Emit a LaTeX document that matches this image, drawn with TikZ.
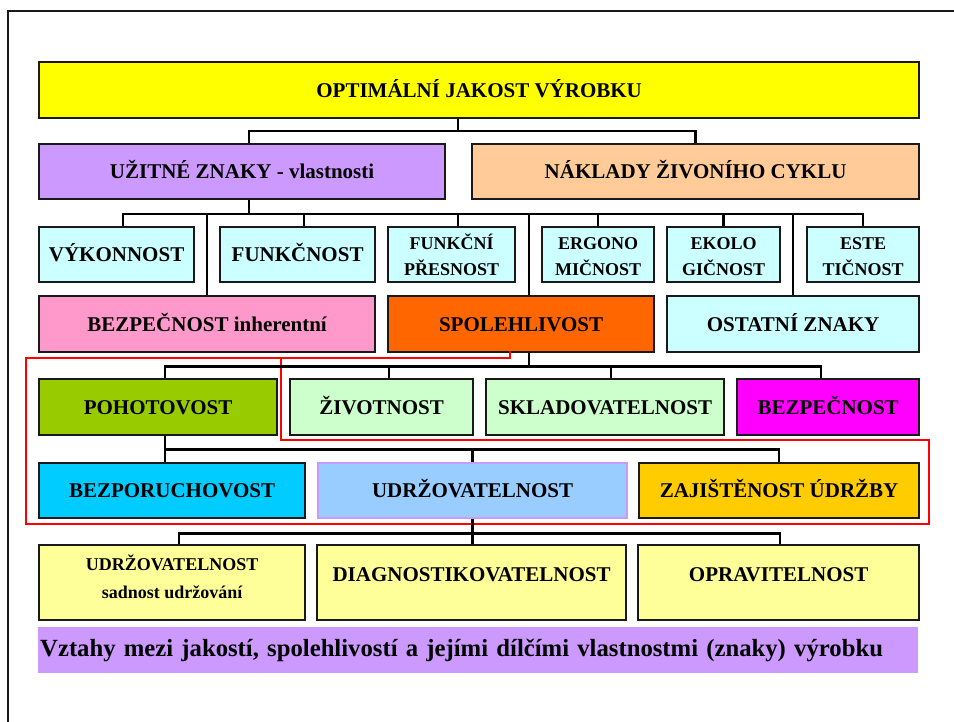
\documentclass[tikz,border=0pt]{standalone}
\usepackage{fontspec}
\setmainfont{Liberation Serif}
\definecolor{zluta}{HTML}{FFFF00}
\definecolor{fialova}{HTML}{CC99FF}
\definecolor{merunka}{HTML}{FFCC99}
\definecolor{azur}{HTML}{CCFFFF}
\definecolor{ruzova}{HTML}{FF99CC}
\definecolor{oranz}{HTML}{FF6600}
\definecolor{olivova}{HTML}{99CC00}
\definecolor{mata}{HTML}{CCFFCC}
\definecolor{purpur}{HTML}{FF00FF}
\definecolor{nebeska}{HTML}{00CCFF}
\definecolor{modra}{HTML}{99CCFF}
\definecolor{zlata}{HTML}{FFCC00}
\definecolor{svetlezluta}{HTML}{FFFF99}

\begin{document}
\begin{tikzpicture}[
x=1pt,y=-1pt,
box/.style={draw=black!90,line width=2.2pt,anchor=north west,inner sep=2pt,align=center,
  text height=14pt,text depth=0pt,font=\bfseries\fontsize{21}{25}\selectfont},
small/.style={text height=42pt,text depth=0pt,font=\bfseries\fontsize{18}{26}\selectfont},
conn/.style={draw=black,line width=2.6pt},
group/.style={draw=red,line width=1.3pt},
frame/.style={draw=black!90,line width=2.5pt}
]
\useasboundingbox (0,0) rectangle (954,722);

\node[box,fill=zluta,minimum width=880pt,minimum height=56pt] (jakost) at (38,61) {OPTIMÁLNÍ JAKOST VÝROBKU};

\node[box,fill=fialova,minimum width=406pt,minimum height=55pt] (uzitne) at (38,143) {UŽITNÉ ZNAKY - vlastnosti};
\node[box,fill=merunka,minimum width=447pt,minimum height=55pt] (naklady) at (471,143) {NÁKLADY ŽIVONÍHO CYKLU};

\node[box,fill=azur,minimum width=155pt,minimum height=55pt] (vykon) at (38,226) {VÝKONNOST};
\node[box,fill=azur,minimum width=155pt,minimum height=55pt] (funkc) at (219,226) {FUNKČNOST};
\node[box,small,fill=azur,minimum width=127pt,minimum height=55pt] (presn) at (387,226) {FUNKČNÍ\\PŘESNOST};
\node[box,small,fill=azur,minimum width=112pt,minimum height=55pt] (ergo) at (541,226) {ERGONO\\MIČNOST};
\node[box,small,fill=azur,minimum width=113pt,minimum height=55pt] (ekolo) at (666,226) {EKOLO\\GIČNOST};
\node[box,small,fill=azur,minimum width=112pt,minimum height=55pt] (estet) at (806,226) {ESTE\\TIČNOST};

\node[box,fill=ruzova,minimum width=336pt,minimum height=56pt] (bezinh) at (38,295) {BEZPEČNOST inherentní};
\node[box,fill=oranz,minimum width=266pt,minimum height=56pt] (spol) at (387,295) {SPOLEHLIVOST};
\node[box,fill=azur,minimum width=252pt,minimum height=56pt] (ostat) at (666,295) {OSTATNÍ ZNAKY};

\node[box,fill=olivova,minimum width=238pt,minimum height=56pt] (pohot) at (38,378) {POHOTOVOST};
\node[box,fill=mata,minimum width=183pt,minimum height=56pt] (zivot) at (289,378) {ŽIVOTNOST};
\node[box,fill=mata,minimum width=238pt,minimum height=56pt] (sklad) at (485,378) {SKLADOVATELNOST};
\node[box,fill=purpur,minimum width=182pt,minimum height=56pt] (bezp) at (736,378) {BEZPEČNOST};

\node[box,fill=nebeska,minimum width=266pt,minimum height=55pt] (bezpor) at (38,462) {BEZPORUCHOVOST};
\node[box,draw=fialova,fill=modra,minimum width=309pt,minimum height=55pt] (udrz) at (317,462) {UDRŽOVATELNOST};
\node[box,fill=zlata,minimum width=280pt,minimum height=55pt] (zajist) at (638,462) {ZAJIŠTĚNOST ÚDRŽBY};

\node[box,fill=svetlezluta,font=\bfseries\fontsize{18}{28}\selectfont,text height=44pt,text depth=12pt,minimum width=266pt,minimum height=75pt] (udrzb) at (38,544) {UDRŽOVATELNOST\\sadnost udržování};
\node[box,fill=svetlezluta,text depth=17pt,minimum width=309pt,minimum height=75pt] (diag) at (316,544) {DIAGNOSTIKOVATELNOST};
\node[box,fill=svetlezluta,text depth=17pt,minimum width=281pt,minimum height=75pt] (oprav) at (637,544) {OPRAVITELNOST};

\node[anchor=north west,fill=fialova,text width=876pt,inner xsep=2pt,inner ysep=0pt,minimum height=46pt,align=left,
  font=\bfseries\fontsize{24.7}{28}\selectfont] (popis) at (38,627) {Vztahy mezi jakostí, spolehlivostí a jejími dílčími vlastnostmi (znaky) výrobku};

\draw[group] (510,351) -- (510,358) -- (26,358) -- (26,524) -- (929,524) -- (929,440) -- (281,440) -- (281,358);

\draw[conn] ([xshift=-21pt]jakost.south) -- ++(0,12) coordinate (b1);
\draw[conn] ([xshift=7pt]uzitne.north) |- (b1) -| (naklady.north);

\draw[conn] ([xshift=7pt]uzitne.south) -- ++(0,14) coordinate (b2);
\draw[conn] ([xshift=6.5pt]vykon.north) |- (b2) -| (estet.north);
\foreach \n/\dx in {bezinh/0,funkc/6.5,presn/6.5,spol/8,ergo/0,ekolo/0,ostat/0}
  \draw[conn] ([xshift=\dx pt]\n.north) -- ([xshift=\dx pt]\n.north |- b2);

\draw[conn] ([xshift=8pt]spol.south) -- ++(0,13) coordinate (b3);
\draw[conn] ([xshift=7pt]pohot.north) |- (b3) -| ([xshift=-7pt]bezp.north);
\foreach \n/\dx in {zivot/7.5,sklad/6}
  \draw[conn] ([xshift=\dx pt]\n.north) -- ([xshift=\dx pt]\n.north |- b3);

\draw[conn] ([xshift=7pt]pohot.south) -- ++(0,13) coordinate (b4) -| (zajist.north);
\draw[conn] (b4) -- (b4 |- bezpor.north);
\draw[conn] (udrz.north) -- (udrz.north |- b4);

\draw[conn] (udrz.south) -- ++(0,14) coordinate (b5);
\draw[conn] ([xshift=7pt]udrzb.north) |- (b5) -| ([xshift=1.5pt]oprav.north);
\draw[conn] (b5) -- (b5 |- diag.north);

\draw[frame] (8,722) -- (8,11) -- (954,11);
\end{tikzpicture}
\end{document}
